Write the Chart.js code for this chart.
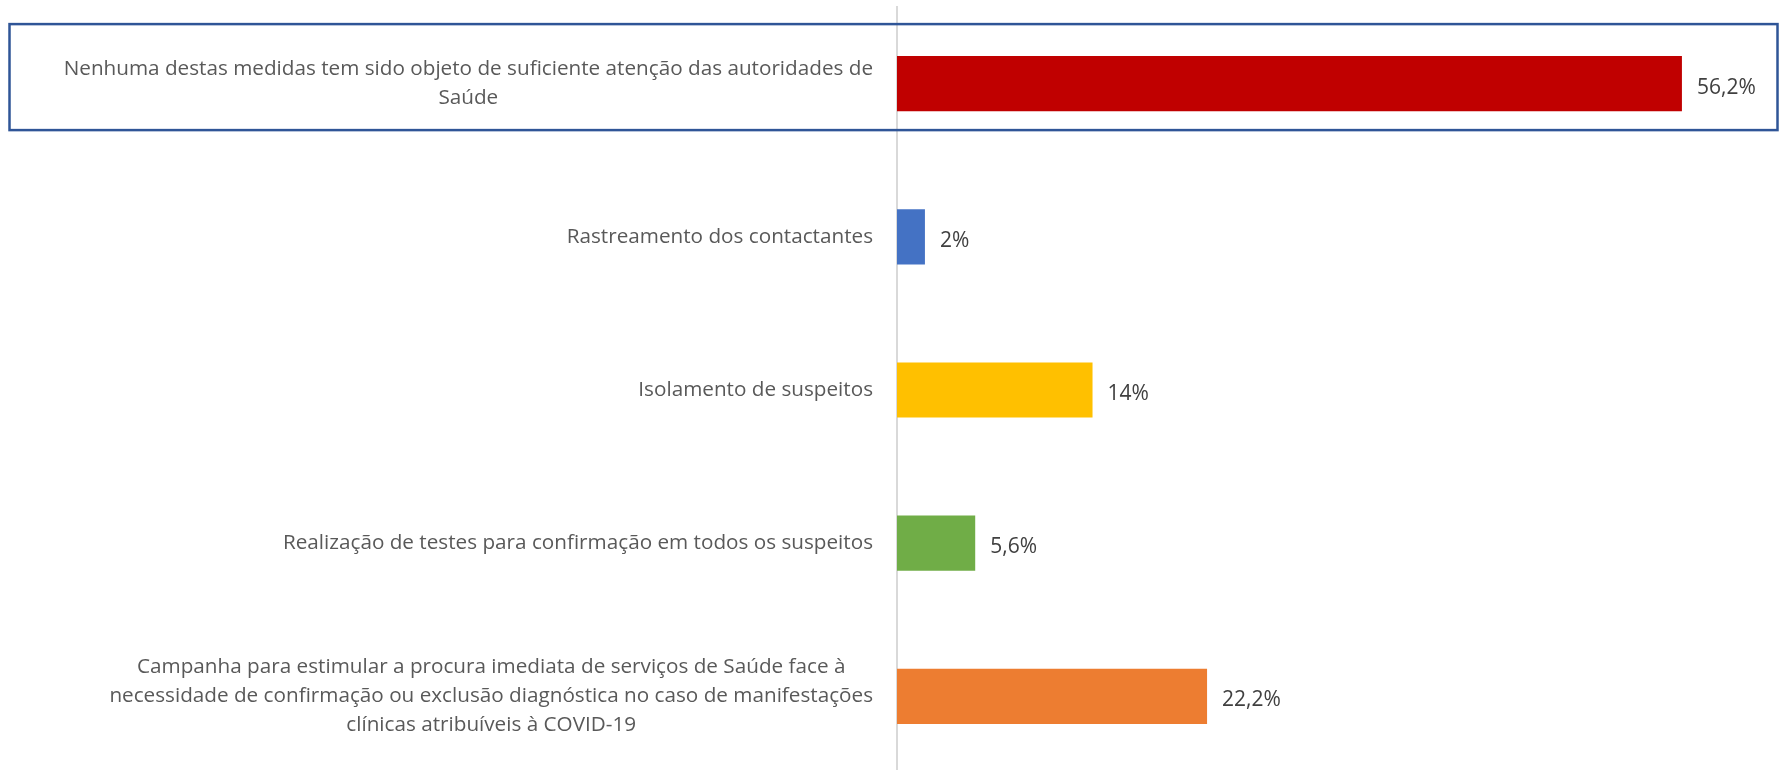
<!DOCTYPE html>
<html>
<head>
<meta charset="utf-8">
<script src="https://cdn.jsdelivr.net/npm/chart.js@4/dist/chart.umd.min.js"></script>
<style>
  html, body { margin: 0; padding: 0; background: #fff; overflow: hidden; }
  #wrap { width: 1779px; height: 780px; position: relative; }
</style>
</head>
<body>
<div id="wrap"><canvas id="barCanvas"></canvas></div>
<script>
const categories = [
    ["Nenhuma destas medidas tem sido objeto de suficiente atenção das autoridades de", "Saúde"],
    ["Rastreamento dos contactantes"],
    ["Isolamento de suspeitos"],
    ["Realização de testes para confirmação em todos os suspeitos"],
    ["Campanha para estimular a procura imediata de serviços de Saúde face à",
     "necessidade de confirmação ou exclusão diagnóstica no caso de manifestações",
     "clínicas atribuíveis à COVID-19"]
]
const values = [56.2, 2, 14, 5.6, 22.2]
const valueLabels = ["56,2%", "2%", "14%", "5,6%", "22,2%"]
const barColors = ["#C00000", "#4472C4", "#FFC000", "#70AD47", "#ED7D31"]

const FONT = "20.7px 'Open Sans'"

// category labels: block right-aligned next to the axis, lines centered inside the block
const leftLabels = {
    id: "leftLabels",
    afterDraw(chart) {
        const ctx = chart.ctx
        const y = chart.scales.y
        ctx.save()
        ctx.font = FONT
        ctx.fillStyle = "#595959"
        ctx.textAlign = "center"
        ctx.textBaseline = "middle"
        categories.forEach((lines, i) => {
            const w = Math.max(...lines.map(l => ctx.measureText(l).width))
            const cx = chart.chartArea.left - 24 - w / 2
            const cy = y.getPixelForValue(i)
            const lh = 29
            lines.forEach((l, j) => {
                ctx.fillText(l, cx, cy + (j - (lines.length - 1) / 2) * lh)
            })
        })
        ctx.restore()
    }
}

// value labels at the end of each bar
const valueText = {
    id: "valueText",
    afterDatasetsDraw(chart) {
        const ctx = chart.ctx
        const meta = chart.getDatasetMeta(0)
        ctx.save()
        ctx.font = "21px 'Open Sans'"
        ctx.fillStyle = "#404040"
        ctx.textAlign = "left"
        ctx.textBaseline = "middle"
        meta.data.forEach((bar, i) => {
            ctx.fillText(valueLabels[i], bar.x + 15, bar.y + 4)
        })
        ctx.restore()
    }
}

// outline box around the first category
const highlight = {
    id: "highlight",
    beforeDatasetsDraw(chart) {
        const ctx = chart.ctx
        const cy = chart.scales.y.getPixelForValue(0)
        ctx.save()
        ctx.strokeStyle = "#2F5597"
        ctx.lineWidth = 2.5
        ctx.strokeRect(9.5, cy - 59.5, 1768, 106)
        ctx.restore()
    }
}

const barChart = new Chart(document.getElementById("barCanvas"), {
    type: "bar",
    data: {
        labels: categories,
        datasets: [{
            data: values,
            backgroundColor: barColors,
            categoryPercentage: 1,
            barPercentage: 0.36
        }]
    },
    options: {
        indexAxis: "y",
        responsive: true,
        maintainAspectRatio: false,
        animation: false,
        layout: { padding: { top: 7, bottom: 7, left: 0, right: 44 } },
        plugins: {
            legend: { display: false },
            tooltip: { enabled: false }
        },
        scales: {
            x: {
                display: false,
                min: 0,
                max: 60
            },
            y: {
                afterFit(scale) { scale.width = 897 },
                ticks: { display: false },
                grid: { display: false },
                border: { display: true, color: "#D9D9D9", width: 2 }
            }
        }
    },
    plugins: [highlight, leftLabels, valueText]
})
</script>
</body>
</html>
